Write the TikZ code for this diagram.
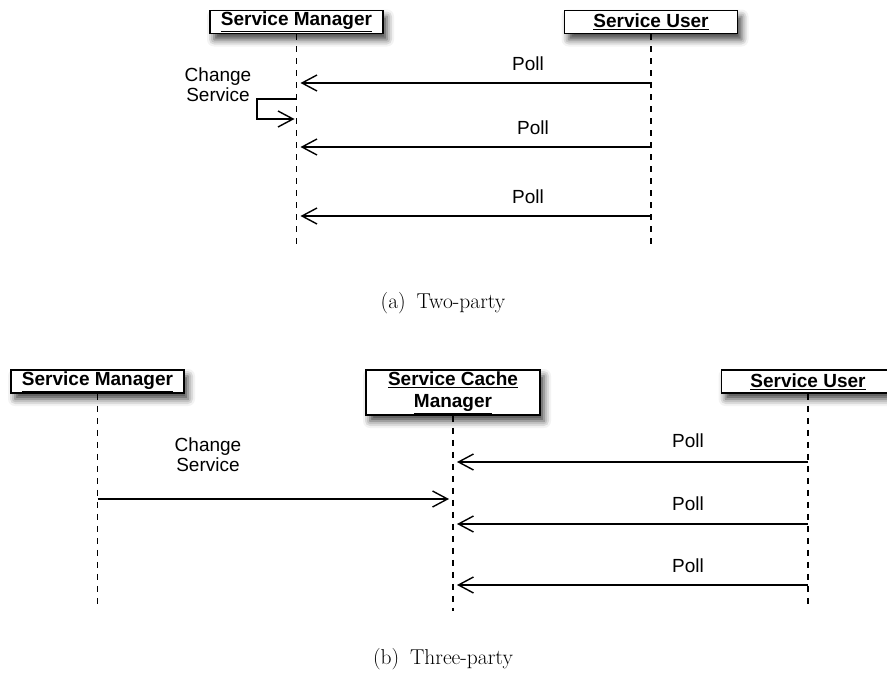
\documentclass[tikz,border=0pt]{standalone}
\usepackage{fontspec}
\newfontfamily\helv{Liberation Sans}
\usetikzlibrary{arrows.meta,shadows.blur}
\tikzset{
  objbox/.style={draw, line width=1.8pt, fill=white, minimum height=23pt,
    inner sep=0pt, align=center,
    font=\helv\bfseries\fontsize{19}{22}\selectfont,
    blur shadow={shadow xshift=4pt, shadow yshift=-6pt,
      shadow blur radius=7pt, shadow opacity=75}},
  life/.style={line width=1.4pt, dash pattern=on 6pt off 6pt},
  msg/.style={line width=1.4pt, shorten >=4pt,
    -{Straight Barb[length=15pt,width=16pt,line width=1.4pt]}},
  lbl/.style={font=\helv\fontsize{19}{20}\selectfont, align=center},
  subcap/.style={font=\fontsize{21.5}{24}\selectfont}
}
\begin{document}
\begin{tikzpicture}[x=1pt,y=-1pt]
\useasboundingbox (0,0) rectangle (887,680);

% ---------- (a) two-party ----------
\node[objbox, minimum width=173pt] (smA) at (296.5,22) {\underline{Service Manager}};
\node[objbox, minimum width=173pt] (suA) at (651,22) {\underline{Service User}};
\coordinate (smAend) at (296.5,245);
\coordinate (suAend) at (651,245);
\draw[life] (smA.south) -- (smAend);
\draw[life] (suA.south) -- (suAend);

\coordinate (uA1) at (651,83);  \coordinate (mA1) at (296.5,83);
\coordinate (uA2) at (651,147); \coordinate (mA2) at (296.5,147);
\coordinate (uA3) at (651,216); \coordinate (mA3) at (296.5,216);
\draw[msg] (uA1) -- (mA1);
\draw[msg] (uA2) -- (mA2);
\draw[msg] (uA3) -- (mA3);
\node[lbl] (pA1) at (528,64) {Poll};
\node[lbl] (pA2) at (533,128) {Poll};
\node[lbl] (pA3) at (528,197) {Poll};

% self message on the manager
\coordinate (sA1) at (296.5,99);
\coordinate (sA2) at (296.5,119);
\draw[msg, shorten >=2pt] (sA1) -- (257,99) -- (257,119) -- (sA2);
\node[lbl] (chA) at (218,85) {Change\\Service};

\node[subcap] (capA) at (443,303) {(a)\enspace Two-party};

% ---------- (b) three-party ----------
\node[objbox, minimum width=173pt] (smB) at (97.5,381.5) {\underline{Service Manager}};
\node[objbox, minimum width=174pt, minimum height=45pt] (scB) at (453,392.5) {\underline{Service Cache}\\\underline{Manager}};
\node[objbox, minimum width=173pt] (suB) at (808,381.5) {\underline{Service User}};
\coordinate (smBend) at (97.5,606);
\coordinate (scBend) at (453,611);
\coordinate (suBend) at (808,606);
\draw[life] (smB.south) -- (smBend);
\draw[life] (scB.south) -- (scBend);
\draw[life] (suB.south) -- (suBend);

\coordinate (mB0) at (97.5,499); \coordinate (cB0) at (453,499);
\draw[msg] (mB0) -- (cB0);
\node[lbl] (chB) at (208,455) {Change\\Service};

\coordinate (uB1) at (808,462); \coordinate (cB1) at (453,462);
\coordinate (uB2) at (808,524); \coordinate (cB2) at (453,524);
\coordinate (uB3) at (808,585); \coordinate (cB3) at (453,585);
\draw[msg] (uB1) -- (cB1);
\draw[msg] (uB2) -- (cB2);
\draw[msg] (uB3) -- (cB3);
\node[lbl] (pB1) at (688,441) {Poll};
\node[lbl] (pB2) at (688,504) {Poll};
\node[lbl] (pB3) at (688,566) {Poll};

\node[subcap] (capB) at (443,659) {(b)\enspace Three-party};
\end{tikzpicture}
\end{document}
